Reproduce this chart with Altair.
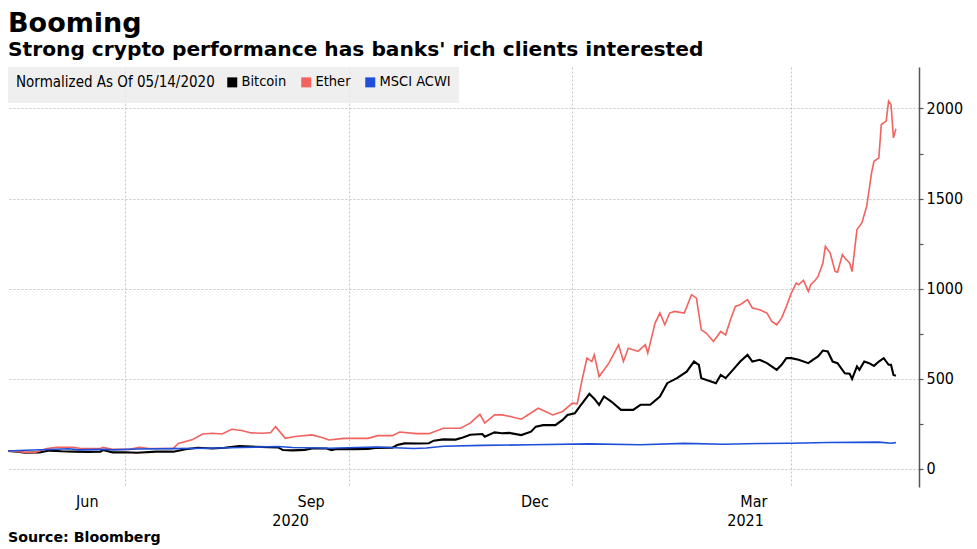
import altair as alt
import pandas as pd

# ---------------- data (normalized, 05/14/2020 = 100) ----------------
btc_dates = [
    "2020-05-14", "2020-05-18", "2020-05-21", "2020-05-27", "2020-05-31", "2020-06-05",
    "2020-06-10", "2020-06-16", "2020-06-21", "2020-06-22", "2020-06-26", "2020-07-01",
    "2020-07-06", "2020-07-14", "2020-07-21", "2020-07-26", "2020-07-31", "2020-08-06",
    "2020-08-11", "2020-08-17", "2020-08-22", "2020-08-29", "2020-09-02", "2020-09-04",
    "2020-09-08", "2020-09-13", "2020-09-16", "2020-09-22", "2020-09-24", "2020-09-26",
    "2020-10-03", "2020-10-09", "2020-10-12", "2020-10-19", "2020-10-21", "2020-10-24",
    "2020-10-30", "2020-11-03", "2020-11-05", "2020-11-09", "2020-11-14", "2020-11-17",
    "2020-11-20", "2020-11-25", "2020-11-26", "2020-11-30", "2020-12-03", "2020-12-06",
    "2020-12-11", "2020-12-15", "2020-12-17", "2020-12-20", "2020-12-25", "2020-12-28",
    "2020-12-30", "2021-01-02", "2021-01-04", "2021-01-08", "2021-01-10", "2021-01-12",
    "2021-01-14", "2021-01-17", "2021-01-21", "2021-01-26", "2021-01-29", "2021-02-02",
    "2021-02-06", "2021-02-09", "2021-02-13", "2021-02-17", "2021-02-20", "2021-02-22",
    "2021-02-23", "2021-02-27", "2021-03-01", "2021-03-03", "2021-03-05", "2021-03-08",
    "2021-03-11", "2021-03-14", "2021-03-16", "2021-03-19", "2021-03-22", "2021-03-26",
    "2021-03-28", "2021-03-30", "2021-04-01", "2021-04-04", "2021-04-08", "2021-04-10",
    "2021-04-12", "2021-04-14", "2021-04-16", "2021-04-18", "2021-04-20", "2021-04-23",
    "2021-04-25", "2021-04-26", "2021-04-28", "2021-04-29", "2021-05-01", "2021-05-03",
    "2021-05-05", "2021-05-07", "2021-05-09", "2021-05-11", "2021-05-12", "2021-05-13",
    "2021-05-14",
]
btc_values = [
    100, 96, 90, 92, 102, 98,
    96, 95, 96, 105, 92, 93,
    90, 96, 96, 109, 118, 114,
    118, 127, 124, 121, 120, 105,
    103, 106, 114, 114, 105, 111,
    110, 111, 117, 118, 133, 142,
    141, 143, 157, 164, 163, 175,
    190, 194, 179, 203, 198, 200,
    188, 207, 235, 243, 243, 272,
    300, 309, 346, 417, 390, 356,
    402, 374, 328, 328, 356, 356,
    402, 476, 504, 540, 596, 578,
    504, 485, 476, 522, 504, 550,
    596, 633, 596, 606, 587, 550,
    578, 615, 615, 606, 587, 606,
    624, 657, 652, 596, 587, 531,
    528, 500, 569, 550, 596, 587,
    572, 596, 615, 578, 578, 522,
    517,
]

eth_dates = [
    "2020-05-14", "2020-05-18", "2020-05-21", "2020-05-25", "2020-05-30", "2020-06-03",
    "2020-06-10", "2020-06-13", "2020-06-21", "2020-06-22", "2020-06-26", "2020-07-03",
    "2020-07-07", "2020-07-11", "2020-07-21", "2020-07-23", "2020-07-29", "2020-08-02",
    "2020-08-06", "2020-08-10", "2020-08-14", "2020-08-18", "2020-08-22", "2020-08-27",
    "2020-08-30", "2020-09-01", "2020-09-05", "2020-09-09", "2020-09-16", "2020-09-20",
    "2020-09-23", "2020-09-29", "2020-10-09", "2020-10-13", "2020-10-19", "2020-10-22",
    "2020-10-29", "2020-11-03", "2020-11-09", "2020-11-16", "2020-11-20", "2020-11-24",
    "2020-11-26", "2020-11-30", "2020-12-03", "2020-12-06", "2020-12-11", "2020-12-18",
    "2020-12-24", "2020-12-28", "2021-01-01", "2021-01-03", "2021-01-05", "2021-01-07",
    "2021-01-09", "2021-01-10", "2021-01-12", "2021-01-16", "2021-01-20", "2021-01-22",
    "2021-01-24", "2021-01-28", "2021-01-31", "2021-02-01", "2021-02-04", "2021-02-06",
    "2021-02-08", "2021-02-10", "2021-02-12", "2021-02-16", "2021-02-19", "2021-02-21",
    "2021-02-23", "2021-02-25", "2021-02-28", "2021-03-03", "2021-03-05", "2021-03-07",
    "2021-03-09", "2021-03-11", "2021-03-14", "2021-03-16", "2021-03-19", "2021-03-22",
    "2021-03-24", "2021-03-26", "2021-03-28", "2021-03-30", "2021-04-01", "2021-04-03",
    "2021-04-04", "2021-04-06", "2021-04-08", "2021-04-09", "2021-04-11", "2021-04-12",
    "2021-04-14", "2021-04-15", "2021-04-17", "2021-04-19", "2021-04-20", "2021-04-22",
    "2021-04-23", "2021-04-25", "2021-04-26", "2021-04-28", "2021-04-30", "2021-05-02",
    "2021-05-04", "2021-05-05", "2021-05-07", "2021-05-08", "2021-05-10", "2021-05-11",
    "2021-05-12", "2021-05-13", "2021-05-14",
]
eth_values = [
    100, 97, 92, 92, 114, 120,
    120, 114, 114, 120, 109, 109,
    120, 114, 114, 142, 164, 194,
    198, 194, 220, 213, 200, 198,
    202, 235, 170, 180, 189, 175,
    161, 170, 170, 185, 185, 205,
    196, 196, 226, 226, 254, 303,
    255, 300, 300, 293, 276, 337,
    300, 319, 365, 361, 494, 615,
    596, 633, 513, 587, 689, 596,
    670, 652, 689, 643, 809, 865,
    800, 865, 874, 865, 967, 948,
    772, 754, 707, 763, 744, 828,
    902, 911, 939, 893, 883, 865,
    819, 800, 837, 902, 976, 1031,
    1022, 1046, 985, 1022, 1050, 1068,
    1143, 1235, 1198, 1096, 1092, 1189,
    1170, 1143, 1096, 1328, 1365, 1457,
    1643, 1707, 1726, 1911, 1930, 2041,
    2022, 1837, 1887,
]

acwi_dates = [
    "2020-05-14", "2020-05-21", "2020-05-31", "2020-06-08", "2020-06-12", "2020-06-22",
    "2020-06-26", "2020-07-06", "2020-07-21", "2020-08-04", "2020-08-18", "2020-09-02",
    "2020-09-08", "2020-09-23", "2020-10-12", "2020-10-28", "2020-11-02", "2020-11-09",
    "2020-11-25", "2020-12-15", "2021-01-08", "2021-01-29", "2021-02-16", "2021-03-04",
    "2021-03-19", "2021-04-01", "2021-04-16", "2021-05-07", "2021-05-12", "2021-05-14",
]
acwi_values = [
    100, 104, 108, 112, 106, 109,
    106, 111, 113, 115, 119, 125,
    119, 115, 122, 114, 116, 126,
    131, 134, 139, 134, 142, 137,
    141, 143, 147, 149, 143, 146,
]

series_names = ["Bitcoin", "Ether", "MSCI ACWI"]
series_colors = ["#000000", "#f2625f", "#1f4fd8"]
series_widths = [2.1, 1.6, 1.6]

legend_title = "Normalized As Of 05/14/2020"
title_text = "Booming"
subtitle_text = "Strong crypto performance has banks' rich clients interested"
source_text = ["Source: Bloomberg"]

x_domain = ["2020-05-14", "2021-05-23T12:00:00"]
y_domain = [-100, 2230]
quarter_starts = ["2020-07-01", "2020-10-01", "2021-01-01", "2021-04-01"]
year_label_dates = ["2020-09-07", "2021-03-13"]
y_ticks = [0, 250, 500, 750, 1000, 1250, 1500, 1750, 2000]

# ---------------- build table ----------------
frames = []
for name, d, v in [("Bitcoin", btc_dates, btc_values),
                   ("Ether", eth_dates, eth_values),
                   ("MSCI ACWI", acwi_dates, acwi_values)]:
    frames.append(pd.DataFrame({"date": d, "value": v, "series": name}))
df = pd.concat(frames, ignore_index=True)

FONT = "DejaVu Sans Condensed, DejaVu Sans, sans-serif"
BOLD = "DejaVu Sans, sans-serif"
W, H = 911, 420

xscale = alt.Scale(type="utc", domain=x_domain, nice=False)
yscale = alt.Scale(domain=y_domain, nice=False, zero=False)
cscale = alt.Scale(domain=series_names, range=series_colors)

month_axis = alt.Axis(
    orient="bottom", values=quarter_starts, title=None,
    labelExpr="utcFormat(datum.value - 86400000, '%b')",
    labelOffset=-38, ticks=False, domain=False, grid=True,
    gridColor="#c4c4c4", gridDash=[2, 2], gridWidth=1,
    labelFont=FONT, labelFontSize=16, labelColor="#000000",
    labelPadding=6, labelAngle=0, labelFlush=False, labelOverlap=False,
)
year_axis = alt.Axis(
    orient="bottom", values=year_label_dates, title=None,
    labelExpr="utcFormat(datum.value, '%Y')",
    ticks=False, domain=False, grid=False,
    labelFont=FONT, labelFontSize=16, labelColor="#000000",
    labelPadding=25, labelAngle=0, labelFlush=False, labelOverlap=False,
)
y_axis = alt.Axis(
    orient="right", values=y_ticks, title=None, format="d",
    labelExpr="datum.value % 500 === 0 ? datum.label : ''",
    grid=True, gridColor="#c4c4c4", gridDash=[2, 2], gridWidth=1,
    gridOpacity={"condition": {"test": "datum.value % 500 !== 0", "value": 0}, "value": 1},
    domain=True, domainColor="#555555", domainWidth=1.5,
    ticks=True, tickColor="#555555", tickSize=4, tickWidth=1.2,
    labelFont=FONT, labelFontSize=16, labelColor="#000000", labelPadding=3,
)

legend = alt.Legend(
    title=legend_title, orient="top-left", direction="horizontal",
    titleOrient="left", titleAnchor="start", titleBaseline="top",
    titleFont=FONT, titleFontSize=15, titleFontWeight="normal",
    titleColor="#000000", titlePadding=10, titleLimit=400,
    labelFont=FONT, labelFontSize=14.5, labelColor="#000000", labelOffset=2,
    symbolType="square", symbolSize=25, symbolStrokeWidth=5, symbolOpacity=1,
    columnPadding=6, fillColor="rgba(236,236,236,0.82)", padding=8, offset=0,
    cornerRadius=0,
)


def series_layer(i):
    return alt.Chart(df).transform_filter(
        alt.datum.series == series_names[i]
    ).mark_line(strokeWidth=series_widths[i]).encode(
        x=alt.X("date:T", scale=xscale, axis=month_axis),
        y=alt.Y("value:Q", scale=yscale, axis=y_axis),
        color=alt.Color("series:N", scale=cscale, legend=legend, sort=series_names),
    )


lines = alt.layer(*[series_layer(i) for i in range(len(series_names))])

years = alt.Chart(pd.DataFrame({"date": year_label_dates})).mark_point(opacity=0).encode(
    x=alt.X("date:T", scale=xscale, axis=year_axis),
)

source = alt.Chart(pd.DataFrame({"t": source_text})).mark_text(
    align="left", baseline="middle", font=BOLD, fontWeight="bold", fontSize=14.2,
    color="#000000",
).encode(x=alt.value(0), y=alt.value(H + 51), text="t:N")

chart = alt.layer(lines, years, source).resolve_axis(x="independent").properties(
    width=W, height=H,
    autosize=alt.AutoSizeParams(type="none"),
    padding={"left": 0, "top": 59, "right": 50, "bottom": 62},
    background="#ffffff",
    title=alt.Title(
        title_text, subtitle=subtitle_text, anchor="start", frame="group",
        font=BOLD, fontSize=27, fontWeight="bold", color="#000000",
        subtitleFont=BOLD, subtitleFontSize=20.2, subtitleFontWeight="bold",
        subtitleColor="#000000", subtitlePadding=2, offset=6,
    ),
).configure_view(stroke=None)

chart.save("out.html", embed_options={"renderer": "svg", "actions": False})
